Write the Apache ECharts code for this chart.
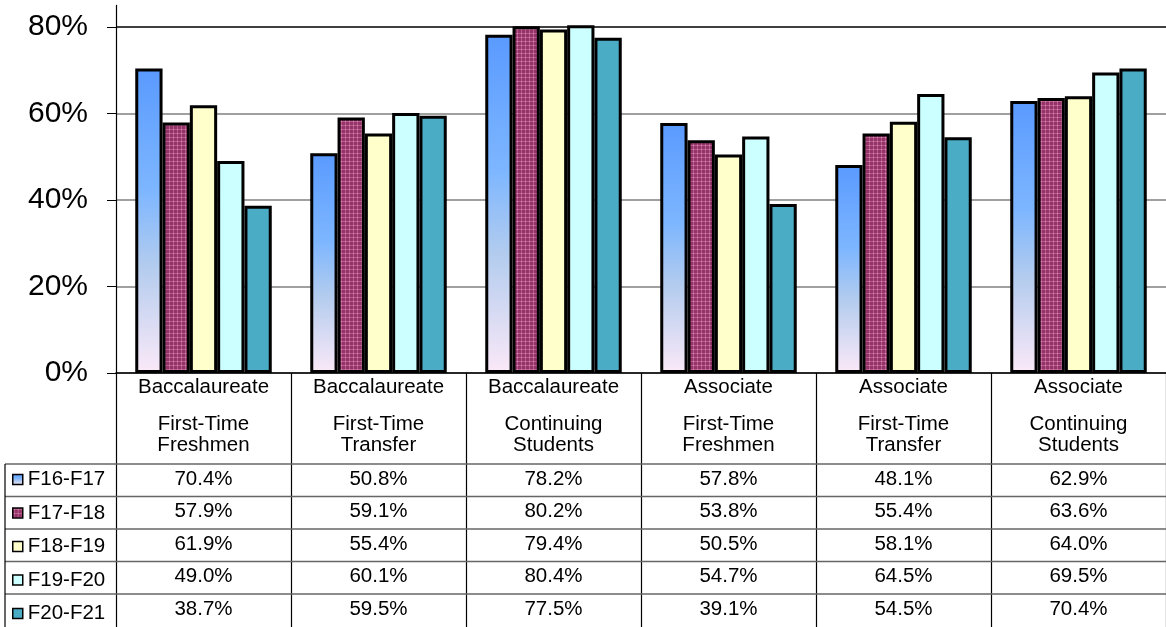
<!DOCTYPE html>
<html><head><meta charset="utf-8">
<script src="https://cdn.jsdelivr.net/npm/echarts@6/dist/echarts.min.js"></script>
<style>html,body{margin:0;padding:0;background:#fff}#c{width:1166px;height:627px}</style>
</head><body><div id="c"></div>
<script>
// ---- data ----
const groups = ['Baccalaureate','Baccalaureate','Baccalaureate','Associate','Associate','Associate'];
const cohorts = ['First-Time\nFreshmen','First-Time\nTransfer','Continuing\nStudents','First-Time\nFreshmen','First-Time\nTransfer','Continuing\nStudents'];
const seriesNames = ['F16-F17','F17-F18','F18-F19','F19-F20','F20-F21'];
const f1617 = [70.4,50.8,78.2,57.8,48.1,62.9];
const f1718 = [57.9,59.1,80.2,53.8,55.4,63.6];
const f1819 = [61.9,55.4,79.4,50.5,58.1,64.0];
const f1920 = [49.0,60.1,80.4,54.7,64.5,69.5];
const f2021 = [38.7,59.5,77.5,39.1,54.5,70.4];
const yTicks = [0,20,40,60,80];
const seriesValues = [f1617,f1718,f1819,f1920,f2021];

// ---- layout / style ----
const FONT = "'Liberation Sans', Arial, sans-serif";
const FS = 20.5;
const W = 1166, H = 627;
const gridLeft = 116, gridTop = 5.4, axisY = 373;
const rowTop = 464, rowH = 32.5, tableLeft = 5;

// pattern for F17-F18
const pc = document.createElement('canvas');
pc.width = 4; pc.height = 4;
const g = pc.getContext('2d');
g.fillStyle = '#953468'; g.fillRect(0,0,4,4);
g.fillStyle = '#b85a8c'; g.fillRect(0,1,4,1); g.fillRect(1,0,1,4);
g.fillStyle = '#d48cb2'; g.fillRect(1,1,1,1);
const patternFill = {image: pc, repeat: 'repeat'};

const fills = [
  {type:'linear', x:0, y:0, x2:0, y2:1, colorStops:[
    {offset:0, color:'#5a9aff'},{offset:0.4, color:'#7db6ff'},
    {offset:0.65, color:'#b3ccee'},{offset:1, color:'#fbe9f8'}]},
  patternFill, '#ffffcc', '#ccffff', '#4bacc6'
];

const catData = groups.map((gname,i)=>gname+'\n'+cohorts[i]);

const xAxes = [{
  type:'category', data:catData, gridIndex:0, position:'bottom',
  axisLine:{show:true, lineStyle:{color:'#000', width:1.5}},
  axisTick:{show:true, interval:0, length:H-axisY, lineStyle:{color:'#000', width:1.2}},
  axisLabel:{interval:0, margin:4, color:'#000',
    formatter:(v,i)=>{const c=cohorts[i].split('\n');
      return '{a|'+groups[i]+'}\n{s| }\n{a|'+c[0]+'}\n{a|'+c[1]+'}';},
    rich:{a:{fontFamily:FONT, fontSize:FS, lineHeight:21, color:'#000'},
          s:{fontSize:8, lineHeight:16}}}
}];
seriesValues.forEach((vals,k)=>{
  xAxes.push({
    type:'category', data:catData, gridIndex:0, position:'bottom',
    offset: (rowTop + 15 + rowH*k) - axisY - 10,
    axisLine:{show:false}, axisTick:{show:false}, splitLine:{show:false},
    axisLabel:{interval:0, margin:0, color:'#000', fontFamily:FONT, fontSize:FS, lineHeight:20,
      formatter:(v,i)=>vals[i].toFixed(1)+'%'}
  });
});

const graphics = [];
for (let k=0;k<seriesNames.length;k++){
  const y = rowTop + rowH*k;
  graphics.push({type:'line', shape:{x1:tableLeft, y1:y, x2:W, y2:y},
    style:{stroke:'#666', lineWidth:1.5}, z:10});
}
graphics.push({type:'line', shape:{x1:tableLeft, y1:rowTop, x2:tableLeft, y2:H},
  style:{stroke:'#000', lineWidth:1.2}, z:10});

const chart = echarts.init(document.getElementById('c'), null, {renderer:'canvas'});
chart.setOption({
  animation:false,
  backgroundColor:'#fff',
  grid:{left:gridLeft, right:0, top:gridTop, bottom:H-axisY, containLabel:false},
  legend:{orient:'vertical', left:12, top:rowTop+5, padding:0, itemWidth:10, itemHeight:10, itemGap:rowH-20,
    icon:'rect', data:seriesNames,
    itemStyle:{borderColor:'#000', borderWidth:1.5},
    textStyle:{fontFamily:FONT, fontSize:FS, lineHeight:20, color:'#000'}},
  xAxis:xAxes,
  yAxis:{type:'value', min:0, max:85, interval:20,
    axisLine:{show:true, lineStyle:{color:'#000', width:1.2}},
    axisTick:{show:true, length:9, lineStyle:{color:'#000'}, customValues:yTicks},
    axisLabel:{margin:28, color:'#000', fontFamily:FONT, fontSize:30, customValues:yTicks,
      formatter:v=>v+'%'},
    splitLine:{show:true, lineStyle:{color:['#808080','#808080','#808080','#808080','#000','rgba(0,0,0,0)'], width:1.5}}
  },
  series: seriesNames.map((name,k)=>({
    name, type:'bar', xAxisIndex:0, data:seriesValues[k],
    barGap:'0%', barCategoryGap:'22%',
    itemStyle:{color:fills[k], borderColor:'#000', borderWidth:3}
  })),
  graphic:graphics
});
</script></body></html>
